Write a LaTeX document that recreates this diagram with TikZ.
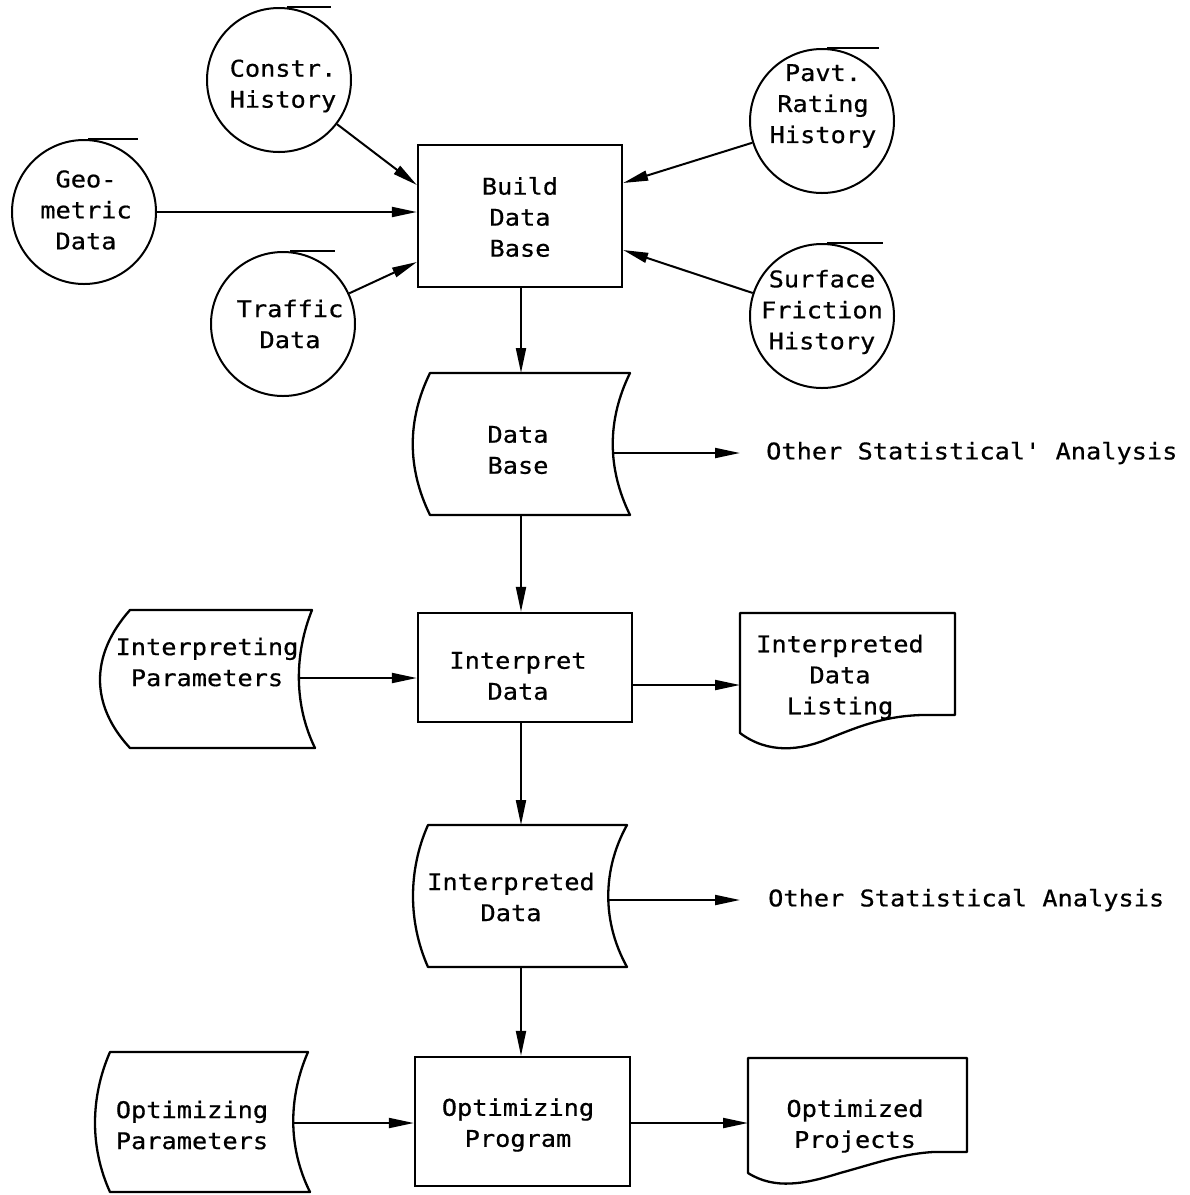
\documentclass[tikz,border=0pt]{standalone}
\usepackage{fontspec}
\newfontfamily\drawfont[FakeStretch=1.1,FakeBold=0.6]{DejaVu Sans Mono}
\usetikzlibrary{arrows.meta}
\begin{document}
\begin{tikzpicture}[x=1pt,y=-1pt,
  every node/.style={font=\drawfont\fontsize{23}{31}\selectfont, align=center, inner sep=0pt},
  tape/.style={circle, draw, line width=2pt, minimum size=144pt},
  procbox/.style={draw, line width=2.3pt},
  shp/.style={draw, line width=2.3pt, line join=round},
  arr/.style={-{Triangle[length=25pt,width=10pt]}, line width=2pt},
  tapeline/.style={line width=2.2pt}]
\useasboundingbox (0,0) rectangle (1190,1195);

% tape (circle) inputs
\node[tape] (constr) at (279,80) {};
\node[tape] (geo) at (84,212) {};
\node[tape] (traffic) at (283,324) {};
\node[tape] (pavt) at (822,121) {};
\node[tape] (surf) at (822,316) {};
\draw[tapeline] (constr.north) ++(8,0) -- ++(44,0);
\draw[tapeline] (geo.north) ++(4,0) -- ++(50,0);
\draw[tapeline] (traffic.north) ++(7,0) -- ++(45,0);
\draw[tapeline] (pavt.north) ++(5,0) -- ++(52,0);
\draw[tapeline] (surf.north) ++(5,0) -- ++(56,0);
\node (t-constr) at (283,86) {Constr.\\History};
\node (t-geo) at (86,210) {Geo-\\metric\\Data};
\node (t-traffic) at (290,324) {Traffic\\Data};
\node (t-pavt) at (823,106) {Pavt.\\Rating\\History};
\node (t-surf) at (822,312) {Surface\\Friction\\History};

% process boxes
\node[procbox, minimum width=204pt, minimum height=142pt] (build) at (520,216) {};
\node[procbox, minimum width=214pt, minimum height=109pt] (interp) at (525,667.5) {};
\node[procbox, minimum width=215pt, minimum height=129pt] (optprog) at (522.5,1121.5) {};
\node (t-build) at (520,217) {Build\\Data\\Base};
\node (t-interp) at (518,676) {Interpret\\Data};
\node (t-optprog) at (518,1125) {Optimizing\\Program};

% stored data shapes
\draw[shp] (430,373) -- (630,373) .. controls (607,420) and (607,468) .. (630,515)
  -- (430,515) .. controls (407,468) and (407,420) .. cycle;
\coordinate (db-n) at (521,373);
\coordinate (db-s) at (521,515);
\coordinate (db-e) at (613,453);
\node (t-db) at (518,450) {Data\\Base};

\draw[shp] (130,610) -- (312,610) .. controls (294,655) and (294,705) .. (315,748)
  -- (130,748) .. controls (90,705) and (90,655) .. cycle;
\coordinate (ip-e) at (299,678);
\node (t-ip) at (207,662) {Interpreting\\Parameters};

\draw[shp] (428,825) -- (627,825) .. controls (602,870) and (602,922) .. (627,967)
  -- (428,967) .. controls (408,922) and (408,870) .. cycle;
\coordinate (id-n) at (521,825);
\coordinate (id-s) at (521,967);
\coordinate (id-e) at (608,900);
\node (t-id) at (511,897) {Interpreted\\Data};

\draw[shp] (110,1052) -- (308,1052) .. controls (288,1098) and (288,1148) .. (310,1192)
  -- (110,1192) .. controls (90,1148) and (90,1098) .. cycle;
\coordinate (op-e) at (293,1123);
\node (t-op) at (192,1125) {Optimizing\\Parameters};

% document shapes
\draw[shp] (740,613) -- (955,613) -- (955,715) -- (922,715)
  .. controls (885,716) and (860,726) .. (830,738)
  .. controls (800,751) and (768,754) .. (740,733) -- cycle;
\coordinate (li-w) at (740,685);
\node (t-li) at (840,677) {Interpreted\\Data\\Listing};

\draw[shp] (748,1058) -- (967,1058) -- (967,1152) -- (933,1152)
  .. controls (900,1154) and (870,1165) .. (840,1173)
  .. controls (805,1184) and (775,1190) .. (748,1173) -- cycle;
\coordinate (pr-w) at (748,1123);
\node (t-pr) at (855,1126) {Optimized\\Projects};

% free text outputs
\node[anchor=west] (osa1) at (766,453) {Other Statistical' Analysis};
\node[anchor=west] (osa2) at (768,900) {Other Statistical Analysis};

% connectors
\draw[arr] (constr) -- (build.west |- 0,185);
\draw[arr] (geo) -- (build.west |- geo);
\draw[arr] (traffic) -- (build.west |- 0,262);
\draw[arr] (pavt) -- (build.east |- 0,183);
\draw[arr] (surf) -- (build.east |- 0,250);
\draw[arr] (build.south -| db-n) -- (db-n);
\draw[arr, shorten >=26pt] (db-e) -- (osa1.west);
\draw[arr] (db-s) -- (db-s |- interp.north);
\draw[arr] (ip-e) -- (ip-e -| interp.west);
\draw[arr] (interp.east |- li-w) -- (li-w);
\draw[arr] (id-n |- interp.south) -- (id-n);
\draw[arr, shorten >=28pt] (id-e) -- (osa2.west);
\draw[arr] (id-s) -- (id-s |- optprog.north);
\draw[arr] (op-e) -- (op-e -| optprog.west);
\draw[arr] (optprog.east |- op-e) -- (pr-w);
\end{tikzpicture}
\end{document}
